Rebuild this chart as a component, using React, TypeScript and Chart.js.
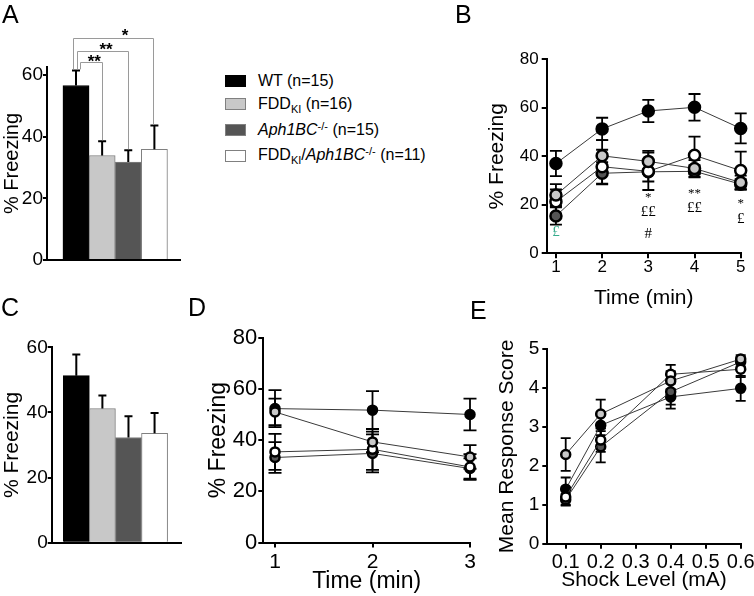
import React, { useEffect, useRef } from 'react';
import { Chart, registerables } from 'chart.js';

Chart.register(...registerables);

const FONT = "'Liberation Sans', Arial, Helvetica, sans-serif";
const SERIF = "'Liberation Serif', 'Times New Roman', serif";
Chart.defaults.font.family = FONT;
Chart.defaults.color = '#000';

// ---------- groups ----------
const groupN = [15, 16, 15, 11];
const groupFill = ['#000000', '#c8c8c8', '#555555', '#ffffff'];
const groupEdge = ['#000000', '#808080', '#808080', '#808080'];
const drawOrder = [4, 1, 3, 2];

// ---------- panel A ----------
const barPositions = [1, 2, 3, 4];
const aMeans = [56.6, 33.9, 31.8, 35.9];
const aSem = [4.9, 4.6, 3.8, 7.7];
const aTicks = [0, 20, 40, 60];
const aSigLabels = ['**', '**', '*'];
const aSigTargets = [1, 2, 3];
const aBracketLevel = [64.3, 67.9, 71.9];
const aBracketLeftX = [1.15, 1.03, 0.87];
const aBracketRightX = [1.98, 2.99, 3.95];
const aStarX = [1.7, 2.15, 2.88];
const aStarY = [65.4, 69.2, 74.0];

// ---------- panel C ----------
const cMeans = [51.3, 41.2, 32.3, 33.6];
const cSem = [6.5, 4.0, 6.5, 6.2];
const cTicks = [0, 20, 40, 60];

// ---------- panel B ----------
const bTime = [1, 2, 3, 4, 5];
const bWT = [37.0, 51.3, 58.7, 60.2, 51.5];
const bWTSem = [5.2, 4.6, 4.6, 5.5, 6.2];
const bFDD = [24.0, 40.2, 37.9, 35.0, 29.2];
const bFDDSem = [4.5, 6.5, 4.3, 3.4, 2.8];
const bAph = [15.4, 33.0, 33.6, 33.8, 28.5];
const bAphSem = [3.6, 4.6, 4.0, 2.5, 2.1];
const bDbl = [21.3, 35.7, 33.8, 40.4, 34.1];
const bDblSem = [5.0, 7.0, 7.7, 7.7, 7.8];
const bTicksY = [0, 20, 40, 60, 80];
const bAnnotX = [1, 3, 3, 3, 4, 4, 5, 5];
const bAnnotY = [8.6, 23.9, 17.0, 8.0, 25.7, 18.6, 21.4, 14.1];
const bAnnotText = ['£', '*', '££', '#', '**', '££', '*', '£'];
const bAnnotColor = ['#36ab8c', '#000', '#000', '#000', '#000', '#000', '#000', '#000'];

// ---------- panel D ----------
const dTime = [1, 2, 3];
const dWT = [52.3, 51.7, 50.0];
const dWTSem = [7.2, 7.4, 6.2];
const dFDD = [51.0, 39.3, 33.4];
const dFDDSem = [5.2, 4.0, 4.6];
const dAph = [33.2, 34.8, 28.9];
const dAphSem = [6.0, 7.4, 4.0];
const dDbl = [35.4, 36.4, 29.5];
const dDblSem = [7.0, 8.0, 5.0];
const dTicksY = [0, 20, 40, 60, 80];

// ---------- panel E ----------
const eShock = [0.1, 0.2, 0.4, 0.6];
const eTicksX = [0.1, 0.2, 0.3, 0.4, 0.5, 0.6];
const eWT = [1.4, 3.04, 3.77, 3.99];
const eWTSem = [0.3, 0.25, 0.2, 0.32];
const eFDD = [2.29, 3.33, 4.18, 4.74];
const eFDDSem = [0.42, 0.37, 0.25, 0.1];
const eAph = [1.13, 2.49, 3.9, 4.67];
const eAphSem = [0.15, 0.4, 0.43, 0.12];
const eDbl = [1.2, 2.66, 4.35, 4.48];
const eDblSem = [0.2, 0.3, 0.24, 0.2];
const eTicksY = [0, 1, 2, 3, 4, 5];

// ---------- layout specs ----------
type Spec = {
  L: number; T: number; W: number; H: number;
  area: { l: number; t: number; r: number; b: number };
  yTitleCx: number; yTitleSize: number;
};

const PA: Spec = { L: 0, T: 0, W: 210, H: 285, area: { l: 47, t: 67, r: 180, b: 260 }, yTitleCx: 12.5, yTitleSize: 20 };
const PB: Spec = { L: 440, T: 0, W: 314, H: 311, area: { l: 546.7, t: 59.3, r: 740.7, b: 253.3 }, yTitleCx: 497, yTitleSize: 21 };
const PC: Spec = { L: 0, T: 290, W: 210, H: 270, area: { l: 51.7, t: 347.3, r: 181.7, b: 542.7 }, yTitleCx: 12.6, yTitleSize: 21 };
const PD: Spec = { L: 200, T: 290, W: 280, H: 304.8, area: { l: 263.3, t: 337.7, r: 470, b: 542.3 }, yTitleCx: 219, yTitleSize: 23 };
const PE: Spec = { L: 480, T: 300, W: 280, H: 292.6, area: { l: 547.3, t: 349, r: 740.7, b: 543.3 }, yTitleCx: 507, yTitleSize: 21 };

function frame(p: Spec) {
  const lh = p.yTitleSize * 1.2;
  const padLeft = Math.max(0, p.yTitleCx - p.L - lh / 2);
  return {
    padding: { left: padLeft, top: p.area.t - p.T, right: p.L + p.W - p.area.r, bottom: 0 },
    yWidth: p.area.l - p.L - padLeft,
    xHeight: p.T + p.H - p.area.b,
  };
}

function yAxis(p: Spec, min: number, max: number, ticks: number[], title: string, tickSize: number, tickLen: number, tickPad: number) {
  const f = frame(p);
  return {
    type: 'linear', position: 'left', min, max,
    afterBuildTicks: (s: any) => { s.ticks = ticks.map((v) => ({ value: v })); },
    afterFit: (s: any) => { s.width = f.yWidth; },
    ticks: { color: '#000', autoSkip: false, font: { family: FONT, size: tickSize }, padding: tickPad, callback: (v: any) => String(v) },
    grid: { display: true, drawOnChartArea: false, drawTicks: true, tickLength: tickLen, color: '#000', lineWidth: 2 },
    border: { display: true, color: '#000', width: 2 },
    title: { display: true, text: title, color: '#000', font: { family: FONT, size: p.yTitleSize, lineHeight: 1.2 }, padding: 0 },
  };
}

function xAxisLine(p: Spec, min: number, max: number, ticks: number[], title: string, tickSize: number, titleSize: number, tickLen: number, tickPad: number) {
  const f = frame(p);
  return {
    type: 'linear', position: 'bottom', min, max, offset: false,
    afterBuildTicks: (s: any) => { s.ticks = ticks.map((v) => ({ value: v })); },
    afterFit: (s: any) => { s.height = f.xHeight; },
    ticks: { color: '#000', autoSkip: false, maxRotation: 0, font: { family: FONT, size: tickSize }, padding: tickPad, callback: (v: any) => String(v) },
    grid: { display: true, offset: false, drawOnChartArea: false, drawTicks: true, tickLength: tickLen, color: '#000', lineWidth: 2 },
    border: { display: true, color: '#000', width: 2 },
    title: { display: true, text: title, color: '#000', font: { family: FONT, size: titleSize, lineHeight: 1.2 }, padding: 0 },
  };
}

function errorPlugin(mode: 'up' | 'both', capHalf: number, lw: number, front: boolean) {
  const draw = (chart: any) => {
    const ctx = chart.ctx;
    const y = chart.scales.y;
    ctx.save();
    ctx.strokeStyle = '#000';
    ctx.lineWidth = lw;
    chart.data.datasets.forEach((ds: any, i: number) => {
      const meta = chart.getDatasetMeta(i);
      const errs: number[] = ds.errors;
      if (!errs) return;
      meta.data.forEach((el: any, j: number) => {
        const v = ds.data[j].y;
        const e = errs[j];
        const x = el.x;
        const yTop = y.getPixelForValue(v + e);
        const yBot = y.getPixelForValue(mode === 'up' ? v : v - e);
        ctx.beginPath();
        ctx.moveTo(x, yTop);
        ctx.lineTo(x, yBot);
        ctx.moveTo(x - capHalf, yTop);
        ctx.lineTo(x + capHalf, yTop);
        if (mode === 'both') {
          ctx.moveTo(x - capHalf, yBot);
          ctx.lineTo(x + capHalf, yBot);
        }
        ctx.stroke();
      });
    });
    ctx.restore();
  };
  return {
    id: 'errorBars',
    beforeDatasetsDraw(chart: any) { if (!front) draw(chart); },
    afterDatasetsDraw(chart: any) { if (front) draw(chart); },
  };
}

const sigPlugin = {
  id: 'sigA',
  afterDatasetsDraw(chart: any) {
    const { ctx, scales: { x, y } } = chart;
    ctx.save();
    ctx.strokeStyle = '#9a9a9a';
    ctx.lineWidth = 1;
    aSigTargets.forEach((t, i) => {
      const xl = Math.round(x.getPixelForValue(aBracketLeftX[i])) + 0.5;
      const xr = Math.round(x.getPixelForValue(aBracketRightX[i])) + 0.5;
      const yl = Math.round(y.getPixelForValue(aBracketLevel[i])) + 0.5;
      const yLeftEnd = y.getPixelForValue(aMeans[0] + aSem[0]) - 1;
      const yRightEnd = y.getPixelForValue(aMeans[t] + aSem[t]) - 1;
      ctx.beginPath();
      ctx.moveTo(xl, yLeftEnd);
      ctx.lineTo(xl, yl);
      ctx.lineTo(xr, yl);
      ctx.lineTo(xr, yRightEnd);
      ctx.stroke();
    });
    ctx.fillStyle = '#000';
    ctx.font = `bold 17px ${FONT}`;
    ctx.textAlign = 'center';
    ctx.textBaseline = 'middle';
    aSigLabels.forEach((s, i) => {
      ctx.fillText(s, x.getPixelForValue(aStarX[i]), y.getPixelForValue(aStarY[i]) + 4);
    });
    ctx.restore();
  },
};

const annotBPlugin = {
  id: 'annotB',
  afterDatasetsDraw(chart: any) {
    const { ctx, scales: { x, y } } = chart;
    ctx.save();
    ctx.textAlign = 'center';
    ctx.textBaseline = 'middle';
    bAnnotText.forEach((t, i) => {
      const star = t.includes('*');
      const size = star ? 13 : 15;
      ctx.font = `${size}px ${SERIF}`;
      ctx.fillStyle = bAnnotColor[i];
      ctx.fillText(t, x.getPixelForValue(bAnnotX[i]), y.getPixelForValue(bAnnotY[i]) + (star ? size * 0.2 : 0));
    });
    ctx.restore();
  },
};

const baseOptions = (p: Spec) => ({
  responsive: false,
  maintainAspectRatio: false,
  animation: false,
  devicePixelRatio: 1,
  events: [],
  layout: { padding: frame(p).padding },
  plugins: { legend: { display: false }, tooltip: { enabled: false } },
});

function barConfig(p: Spec, means: number[], sems: number[], yMax: number, yTicks: number[], xMin: number, xMax: number, withSig: boolean) {
  const f = frame(p);
  return {
    type: 'bar',
    data: {
      datasets: [{
        data: barPositions.map((x, i) => ({ x, y: means[i] })),
        errors: sems,
        backgroundColor: groupFill,
        borderColor: groupEdge,
        borderWidth: 1,
        categoryPercentage: 1,
        barPercentage: 1,
        clip: false,
      }],
    },
    options: {
      ...baseOptions(p),
      scales: {
        x: {
          type: 'linear', position: 'bottom', min: xMin, max: xMax, offset: false,
          afterBuildTicks: (s: any) => { s.ticks = barPositions.map((v) => ({ value: v })); },
          afterFit: (s: any) => { s.height = f.xHeight; },
          ticks: { display: false },
          grid: { display: false, offset: false },
          border: { display: true, color: '#000', width: 2 },
        },
        y: yAxis(p, 0, yMax, yTicks, '% Freezing', 19, 4, 0),
      },
    },
    plugins: [errorPlugin('up', 4, 2, true), ...(withSig ? [sigPlugin] : [])],
  };
}

function lineDatasets(xs: number[], series: number[][], sems: number[][], r: number, bw: number) {
  return series.map((vals, i) => ({
    data: xs.map((x, j) => ({ x, y: vals[j] })),
    errors: sems[i],
    borderColor: '#3a3a3a',
    borderWidth: 1,
    pointRadius: r,
    pointBorderWidth: bw,
    pointBackgroundColor: groupFill[i],
    pointBorderColor: '#000',
    order: drawOrder[i],
    clip: false,
    tension: 0,
  }));
}

const configA = () => barConfig(PA, aMeans, aSem, 62.6, aTicks, -0.11, 4.98, true);
const configC = () => barConfig(PC, cMeans, cSem, 60, cTicks, 0.057, 5.04, false);

const configB = () => ({
  type: 'line',
  data: { datasets: lineDatasets(bTime, [bWT, bFDD, bAph, bDbl], [bWTSem, bFDDSem, bAphSem, bDblSem], 5.5, 2.5) },
  options: {
    ...baseOptions(PB),
    scales: {
      x: xAxisLine(PB, 0.8, 5, bTime, 'Time (min)', 17, 21, 5, -1),
      y: yAxis(PB, 0, 80, bTicksY, '% Freezing', 17, 5, 3),
    },
  },
  plugins: [errorPlugin('both', 6, 1.8, false), annotBPlugin],
});

const configD = () => ({
  type: 'line',
  data: { datasets: lineDatasets(dTime, [dWT, dFDD, dAph, dDbl], [dWTSem, dFDDSem, dAphSem, dDblSem], 4.5, 2.5) },
  options: {
    ...baseOptions(PD),
    scales: {
      x: xAxisLine(PD, 0.88, 3, dTime, 'Time (min)', 21, 23, 5, 2),
      y: yAxis(PD, 0, 80, dTicksY, '% Freezing', 22, 5, 1),
    },
  },
  plugins: [errorPlugin('both', 6.5, 1.8, false)],
});

const configE = () => ({
  type: 'line',
  data: { datasets: lineDatasets(eShock, [eWT, eFDD, eAph, eDbl], [eWTSem, eFDDSem, eAphSem, eDblSem], 4.5, 2.5) },
  options: {
    ...baseOptions(PE),
    scales: {
      x: xAxisLine(PE, 0.0474, 0.6, eTicksX, 'Shock Level (mA)', 20, 21, 5, 2),
      y: yAxis(PE, 0, 5, eTicksY, 'Mean Response Score', 19, 5, 3),
    },
  },
  plugins: [errorPlugin('both', 5, 1.8, false)],
});

function Panel({ spec, build }: { spec: Spec; build: () => any }) {
  const ref = useRef<HTMLCanvasElement>(null);
  useEffect(() => {
    const chart = new Chart(ref.current as HTMLCanvasElement, build());
    return () => chart.destroy();
  }, []);
  return (
    <canvas
      ref={ref}
      width={Math.round(spec.W)}
      height={Math.round(spec.H)}
      style={{ position: 'absolute', left: spec.L, top: spec.T, width: Math.round(spec.W), height: Math.round(spec.H) }}
    />
  );
}

function Letter({ text, left, top }: { text: string; left: number; top: number }) {
  return (
    <div style={{ position: 'absolute', left, top, fontSize: 25, lineHeight: '25px', fontFamily: FONT }}>{text}</div>
  );
}

const subStyle: React.CSSProperties = { fontSize: 11, position: 'relative', top: 4 };
const supStyle: React.CSSProperties = { fontSize: 11, position: 'relative', top: -5 };

const legendRows = [80.5, 104, 130, 155.5];

function LegendRow({ i, children }: { i: number; children: React.ReactNode }) {
  return (
    <div style={{ position: 'absolute', left: 225, top: legendRows[i] - 8, height: 16, display: 'flex', alignItems: 'center', whiteSpace: 'nowrap', fontSize: 16, lineHeight: '16px', fontFamily: FONT }}>
      <div style={{ width: 21, height: 12, boxSizing: 'border-box', background: groupFill[i], border: `1px solid ${groupEdge[i]}`, marginRight: 12, flex: 'none' }} />
      <span>{children}</span>
    </div>
  );
}

export default function App() {
  return (
    <div style={{ position: 'absolute', left: 0, top: 0, width: 754, height: 596, overflow: 'hidden', background: '#fff', color: '#000', fontFamily: FONT }}>
      <Panel spec={PA} build={configA} />
      <Panel spec={PB} build={configB} />
      <Panel spec={PC} build={configC} />
      <Panel spec={PD} build={configD} />
      <Panel spec={PE} build={configE} />
      <Letter text="A" left={2} top={1.7} />
      <Letter text="B" left={455} top={1.7} />
      <Letter text="C" left={1} top={294.7} />
      <Letter text="D" left={188} top={294.7} />
      <Letter text="E" left={470} top={297.7} />
      <LegendRow i={0}>WT (n={groupN[0]})</LegendRow>
      <LegendRow i={1}>FDD<span style={subStyle}>KI</span> (n={groupN[1]})</LegendRow>
      <LegendRow i={2}><i>Aph1BC</i><span style={supStyle}>-/-</span> (n={groupN[2]})</LegendRow>
      <LegendRow i={3}>FDD<span style={subStyle}>KI</span>/<i>Aph1BC</i><span style={supStyle}>-/-</span> (n={groupN[3]})</LegendRow>
    </div>
  );
}
